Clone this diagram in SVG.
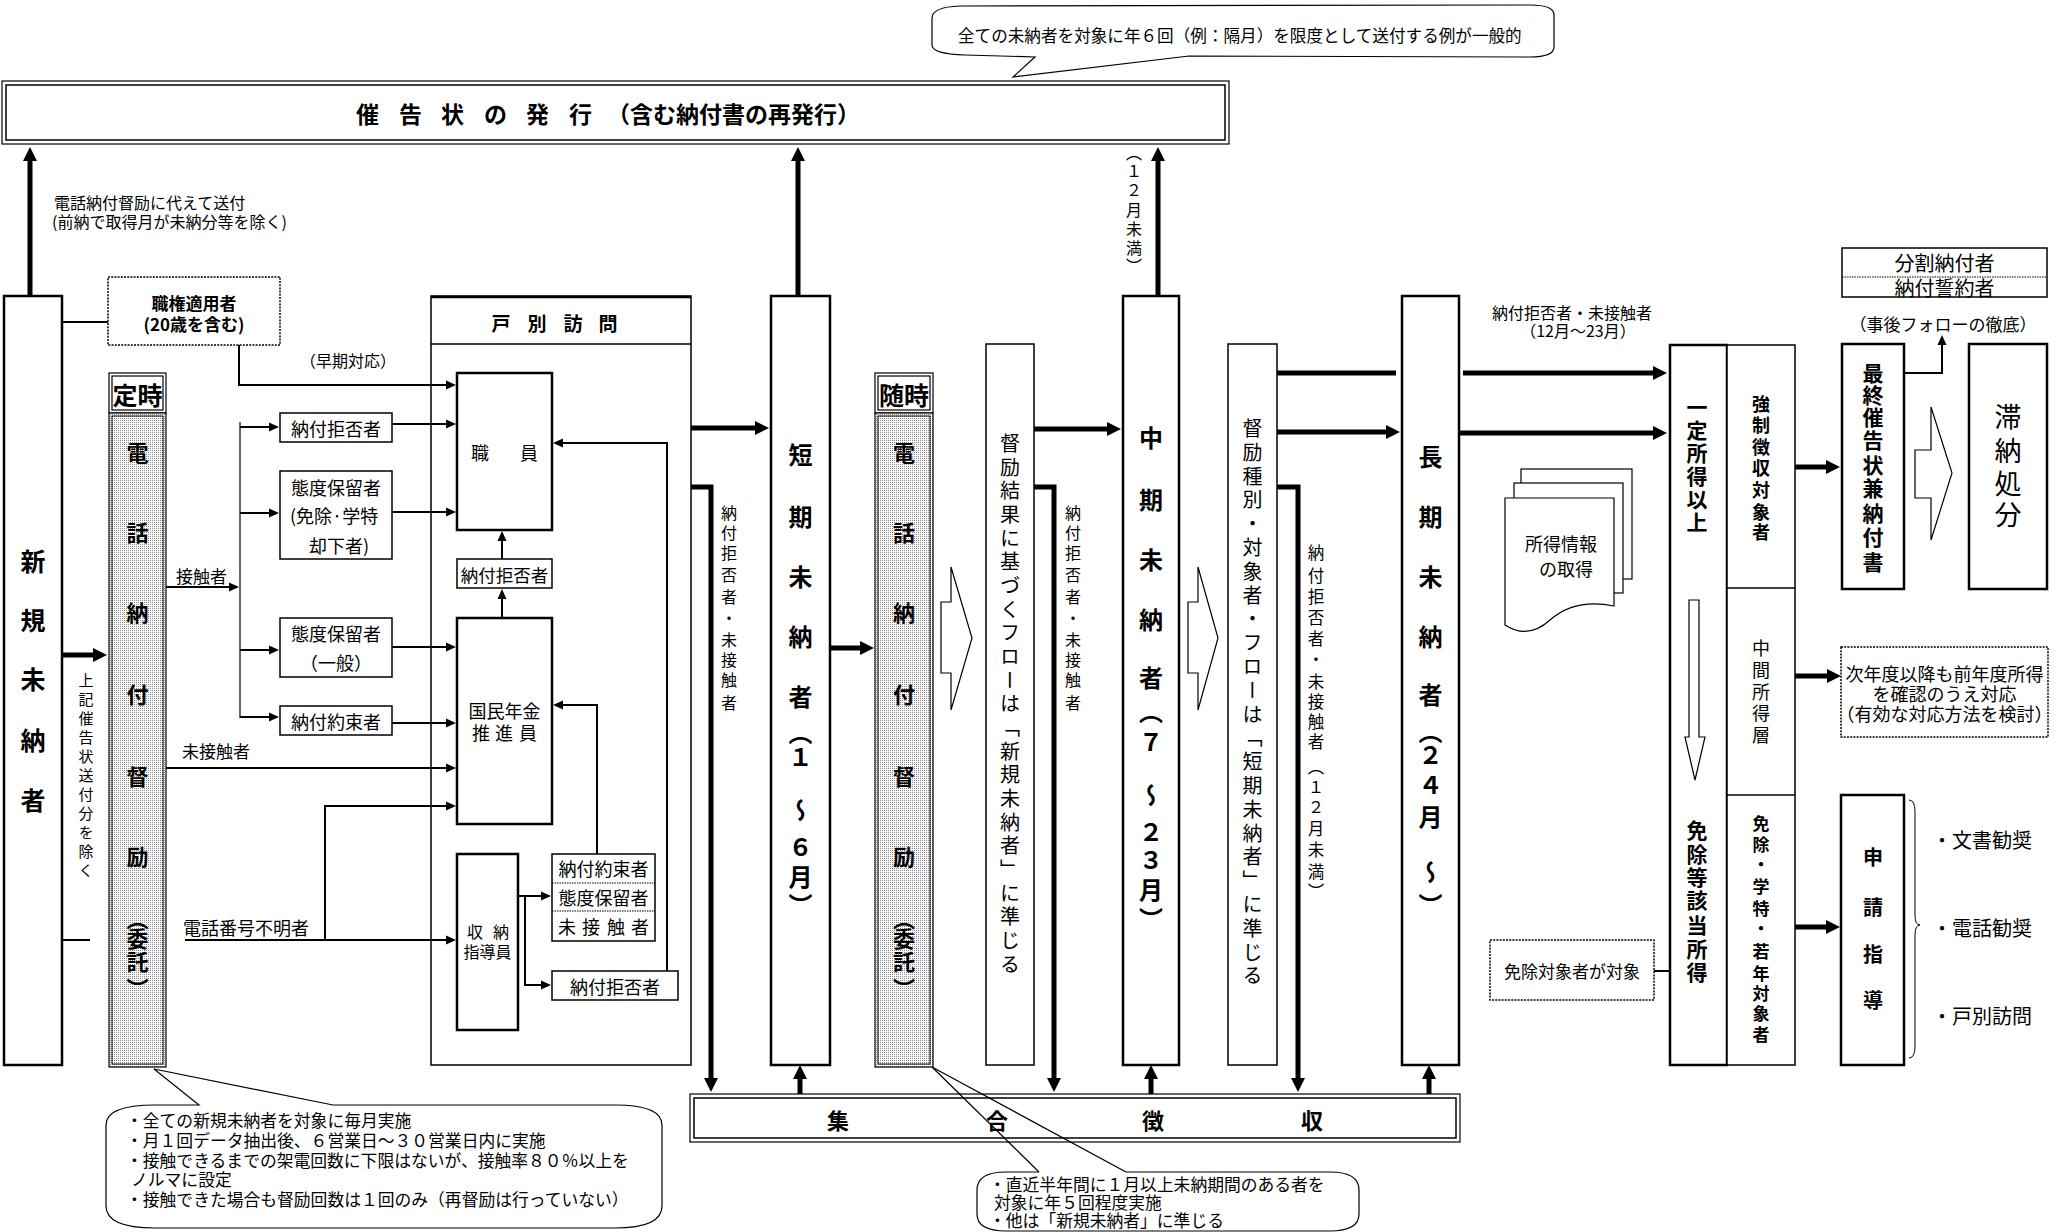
<svg xmlns="http://www.w3.org/2000/svg" width="2063" height="1232" viewBox="0 0 2063 1232">
<defs>
<style>
text{font-family:'Noto Sans CJK JP','Noto Sans',sans-serif;fill:#000}
.bd{font-weight:700}
.c{text-anchor:middle;dominant-baseline:central}
.s{dominant-baseline:central}
.v{writing-mode:vertical-rl;text-anchor:middle;dominant-baseline:central}
.box{fill:#fff;stroke:#000;stroke-width:1.5}
.bx2{fill:#fff;stroke:#000;stroke-width:2.5}
.ds{fill:#fff;stroke:#000;stroke-width:1.5;stroke-dasharray:2 1.2}
.dv{fill:none;stroke:#000;stroke-width:1.2;stroke-dasharray:1.5 1}
.ln{fill:none;stroke:#000;stroke-width:2}
.tk{fill:none;stroke:#000;stroke-width:5}
.hol{fill:#fff;stroke:#000;stroke-width:1.2}
.cal{fill:#fff;stroke:#000;stroke-width:1.2}
.tail{fill:none;stroke:#000;stroke-width:1.2}
</style>
<pattern id="dots" width="2" height="2" patternUnits="userSpaceOnUse"><rect width="2" height="2" fill="#fff"/><rect width="1" height="1" fill="#888"/></pattern>
<marker id="a" viewBox="0 0 10 10" markerWidth="10" markerHeight="10" refX="8" refY="5" orient="auto" markerUnits="userSpaceOnUse"><path d="M0,0.5 L10,5 L0,9.5z"/></marker>
<marker id="A" viewBox="0 0 14 14" markerWidth="14" markerHeight="14" refX="4" refY="7" orient="auto" markerUnits="userSpaceOnUse"><path d="M0,0 L14,7 L0,14z"/></marker>
</defs>
<rect width="2063" height="1232" fill="#fff"/>

<g id="banner">
<rect x="2" y="81" width="1227" height="63" fill="#fff" stroke="#000" stroke-width="1.2"/>
<rect x="6" y="85" width="1219" height="55" fill="none" stroke="#000" stroke-width="1.5"/>
<text class="bd s" font-size="23" x="356 399 441 484 526 569" y="113">催告状の発行</text>
<text class="bd s" font-size="23" x="607" y="113">（含む納付書の再発行）</text>
</g>

<g id="shinki">
<rect class="bx2" x="4" y="296" width="58" height="769"/>
<text class="bd v" font-size="25" x="33" y="561 620 679 740 800">新規未納者</text>
</g>
<text class="v" font-size="15" x="86" y="680 699 718 737 756 775 794 813 832 851 870">上記催告状送付分を除く</text>
<text class="s" font-size="16" x="54" y="202">電話納付督励に代えて送付</text>
<text class="s" font-size="16" x="52" y="221">(前納で取得月が未納分等を除く)</text>

<g id="shokken">
<rect class="ds" x="108" y="277" width="172" height="68"/>
<text class="bd c" font-size="17" x="194" y="302">職権適用者</text>
<text class="bd c" font-size="17" x="194" y="323">(20歳を含む)</text>
</g>
<text class="c" font-size="16" x="348" y="360">（早期対応）</text>

<g id="teiji">
<rect x="109" y="373" width="57" height="40" fill="#fff" stroke="#000" stroke-width="1.2"/>
<rect x="112" y="376" width="51" height="34" fill="none" stroke="#000" stroke-width="1.2"/>
<text class="bd c" font-size="25" x="137.5" y="394">定時</text>
<rect x="109" y="413" width="57" height="654" fill="url(#dots)" stroke="#000" stroke-width="1.2"/>
<rect x="112" y="416" width="51" height="648" fill="none" stroke="#000" stroke-width="1"/>
<text class="bd v" font-size="22" x="137.5" y="453 533 613 695 777 857 919 939 962 989">電話納付督励（委託）</text>
</g>

<g id="left-boxes">
<rect class="box" x="280" y="413" width="112" height="29"/>
<text class="c" font-size="18" x="336" y="428">納付拒否者</text>
<rect class="box" x="280" y="471" width="112" height="88"/>
<text class="c" font-size="18" x="336" y="487">態度保留者</text>
<text class="s" font-size="18" x="290" y="515">(免除·学特</text>
<text class="s" font-size="18" x="309" y="545">却下者)</text>
<rect class="box" x="280" y="618" width="112" height="59"/>
<text class="c" font-size="18" x="336" y="633">態度保留者</text>
<text class="c" font-size="18" x="336" y="662">（一般）</text>
<rect class="box" x="280" y="706" width="112" height="29"/>
<text class="c" font-size="18" x="336" y="721">納付約束者</text>
</g>
<text class="s" font-size="17" x="176" y="575">接触者</text>
<text class="s" font-size="17" x="182" y="750">未接触者</text>
<text class="s" font-size="18" x="183" y="927">電話番号不明者</text>

<g id="kobetsu">
<rect x="431" y="296" width="260" height="769" fill="#fff" stroke="#000" stroke-width="1.5"/>
<line x1="431" y1="344" x2="691" y2="344" stroke="#000" stroke-width="1.5"/>
<line x1="431" y1="297" x2="691" y2="297" stroke="#000" stroke-width="2.5"/>
<text class="bd c" font-size="19" x="501 537 573 608" y="322">戸別訪問</text>
</g>
<g id="shokuin">
<rect class="bx2" x="457" y="373" width="95" height="157"/>
<text class="c" font-size="18" x="480 529" y="452">職員</text>
</g>
<g id="kyohi-mid">
<rect class="box" x="457" y="559" width="95" height="29"/>
<text class="c" font-size="17.5" x="504.5" y="574">納付拒否者</text>
</g>
<g id="suishinin">
<rect class="bx2" x="457" y="618" width="95" height="206"/>
<text class="c" font-size="18" x="504.5" y="710">国民年金</text>
<text class="c" font-size="18" x="481 504 528" y="732">推進員</text>
</g>
<g id="shuno">
<rect class="bx2" x="457" y="854" width="61" height="176"/>
<text class="c" font-size="16" x="475 501" y="931">収納</text>
<text class="c" font-size="16" x="487.5" y="951">指導員</text>
</g>
<g id="stack">
<rect class="box" x="552" y="854" width="103" height="87"/>
<line class="dv" x1="552" y1="883" x2="655" y2="883"/>
<line class="dv" x1="552" y1="911" x2="655" y2="911"/>
<text class="c" font-size="18" x="603.5" y="868">納付約束者</text>
<text class="c" font-size="18" x="603.5" y="897">態度保留者</text>
<text class="c" font-size="18" x="567 591 616 640" y="926">未接触者</text>
</g>
<g id="kyohi-bottom">
<rect class="box" x="552" y="971" width="126" height="29"/>
<text class="c" font-size="18" x="615" y="986">納付拒否者</text>
</g>

<g id="tanki">
<rect class="bx2" x="771" y="296" width="59" height="769"/>
<text class="bd v" font-size="24" x="800.5" y="455 517 577 637 697 733 757 810 847 877 905">短期未納者（１～６月）</text>
</g>
<text class="v" font-size="16" x="729" y="513 533 553 575 597 618 640 660 680 703">納付拒否者・未接触者</text>

<g id="zuiji">
<rect x="875" y="373" width="58" height="40" fill="#fff" stroke="#000" stroke-width="1.2"/>
<rect x="878" y="376" width="52" height="34" fill="none" stroke="#000" stroke-width="1.2"/>
<text class="bd c" font-size="25" x="904" y="394">随時</text>
<rect x="875" y="413" width="58" height="654" fill="url(#dots)" stroke="#000" stroke-width="1.2"/>
<rect x="878" y="416" width="52" height="648" fill="none" stroke="#000" stroke-width="1"/>
<text class="bd v" font-size="22" x="904" y="453 533 613 695 777 857 919 939 962 989">電話納付督励（委託）</text>
</g>
<polygon class="hol" points="941,602 951,602 951,567 972,638 951,710 951,673 941,673"/>
<g id="tokurei-kekka">
<rect class="box" x="986" y="344" width="48" height="721"/>
<text class="v" font-size="20" x="1010" y="443 467 490 514 538 561 585 609 632 656 680 703 727 751 774 798 822 845 869 893 916 940 964">督励結果に基づくフローは「新規未納者」に準じる</text>
</g>
<text class="v" font-size="16" x="1073" y="513 533 553 575 597 618 640 660 680 703">納付拒否者・未接触者</text>

<g id="chuki">
<rect class="bx2" x="1123" y="296" width="56" height="769"/>
<text class="bd v" font-size="24" x="1151" y="438 500 560 620 678 712 742 795 832 860 890 919">中期未納者（７～２３月）</text>
</g>
<text class="v" font-size="16" x="1134" y="153 171 190 210 229 248 266">（１２月未満）</text>
<polygon class="hol" points="1188,602 1198,602 1198,567 1218,638 1198,710 1198,673 1188,673"/>
<g id="tokurei-shubetsu">
<rect class="box" x="1228" y="344" width="49" height="721"/>
<text class="v" font-size="20" x="1252.5" y="428 452 476 499 523 547 571 595 618 642 666 690 714 737 761 785 809 833 856 880 904 928 952 975">督励種別・対象者・フローは「短期未納者」に準じる</text>
</g>
<text class="v" font-size="16.5" x="1316" y="553 576 597 618 639 660 682 702 722 742 767 787 807 829 850 872 892">納付拒否者・未接触者（１２月未満）</text>

<g id="choki">
<rect class="bx2" x="1402" y="296" width="57" height="769"/>
<text class="bd v" font-size="24" x="1430.5" y="457 517 577 637 695 732 755 785 817 872 905">長期未納者（２４月～）</text>
</g>
<text class="s" font-size="16" x="1492" y="312">納付拒否者・未接触者</text>
<text class="c" font-size="16" x="1578" y="330">（12月～23月）</text>

<g id="shotoku-doc">
<rect x="1521" y="469" width="111" height="110" fill="#fff" stroke="#000" stroke-width="1.2"/>
<rect x="1514" y="483" width="109" height="110" fill="#fff" stroke="#000" stroke-width="1.2"/>
<path d="M1505,498 H1614 V606 Q1575,598 1550,620 Q1528,640 1505,625 Z" fill="#fff" stroke="#000" stroke-width="1.2"/>
<text class="c" font-size="18" x="1561" y="543">所得情報</text>
<text class="c" font-size="18" x="1566" y="568">の取得</text>
</g>

<g id="ittei">
<rect class="bx2" x="1670" y="345" width="57" height="720"/>
<text class="bd v" font-size="21" x="1697" y="407 430 453 476 499 522">一定所得以上</text>
<polygon class="hol" points="1689,600 1699,600 1699,737 1705,737 1695,780 1685,737 1689,737"/>
<text class="bd v" font-size="21" x="1697" y="830 854 877 900 925 949 972">免除等該当所得</text>
</g>
<g id="category">
<rect class="box" x="1727" y="345" width="68" height="720"/>
<line x1="1727" y1="588" x2="1795" y2="588" stroke="#000" stroke-width="1.5"/>
<line x1="1727" y1="795" x2="1795" y2="795" stroke="#000" stroke-width="1.5"/>
<text class="bd v" font-size="18" x="1761" y="404 425 447 468 490 512 532">強制徴収対象者</text>
<text class="v" font-size="18" x="1761" y="648 670 692 713 735">中間所得層</text>
<text class="bd v" font-size="17" x="1761" y="824 845 865 887 909 929 952 974 994 1014 1035">免除・学特・若年対象者</text>
</g>
<g id="menjo-taisho">
<rect class="ds" x="1490" y="940" width="164" height="60"/>
<text class="c" font-size="17" x="1572" y="970">免除対象者が対象</text>
</g>

<g id="bunkatsu">
<rect class="box" x="1842" y="248" width="205" height="49"/>
<line class="dv" x1="1842" y1="277" x2="2047" y2="277"/>
<text class="c" font-size="20" x="1944.5" y="262">分割納付者</text>
<text class="c" font-size="20" x="1944.5" y="287">納付誓約者</text>
</g>
<text class="c" font-size="17" x="1943" y="323">（事後フォローの徹底）</text>
<g id="saishu">
<rect class="bx2" x="1842" y="344" width="62" height="245"/>
<text class="bd v" font-size="21" x="1873" y="373 395 417 440 465 488 513 537 562">最終催告状兼納付書</text>
</g>
<polygon class="hol" points="1915,450 1931,450 1931,407 1952,473 1931,540 1931,498 1915,498"/>
<g id="tainou">
<rect class="bx2" x="1969" y="344" width="78" height="245"/>
<text class="v" font-size="27" x="2008" y="417 451 484 515">滞納処分</text>
</g>
<g id="jinendo">
<rect class="ds" x="1841" y="647" width="207" height="90"/>
<text class="c" font-size="18" x="1944.5" y="673">次年度以降も前年度所得</text>
<text class="c" font-size="18" x="1944.5" y="693">を確認のうえ対応</text>
<text class="c" font-size="18" x="1944.5" y="713">（有効な対応方法を検討）</text>
</g>
<g id="shinsei">
<rect class="bx2" x="1841" y="795" width="63" height="270"/>
<text class="bd v" font-size="20" x="1873" y="857 907 954 1000">申請指導</text>
<path d="M1909,800 Q1915,800 1915,812 L1915,915 Q1915,925 1920,925 Q1915,925 1915,935 L1915,1046 Q1915,1058 1909,1058" fill="none" stroke="#000" stroke-width="1"/>
<text class="s" font-size="20" x="1932" y="839">・文書勧奨</text>
<text class="s" font-size="20" x="1932" y="927">・電話勧奨</text>
<text class="s" font-size="20" x="1932" y="1015">・戸別訪問</text>
</g>

<g id="shugo">
<rect x="690" y="1094" width="770" height="48" fill="#fff" stroke="#000" stroke-width="1.2"/>
<rect x="694" y="1098" width="762" height="40" fill="none" stroke="#000" stroke-width="1.5"/>
<text class="bd c" font-size="22" x="838 997 1153 1312" y="1119">集合徴収</text>
</g>

<g id="connectors">
<path class="tk" d="M30,296 V157" marker-end="url(#A)"/>
<path class="tk" d="M798,296 V157" marker-end="url(#A)"/>
<path class="tk" d="M1158,296 V157" marker-end="url(#A)"/>
<path class="tk" d="M62,655 H97" marker-end="url(#A)"/>
<path class="tk" d="M691,428 H759" marker-end="url(#A)"/>
<path class="tk" d="M691,487 H711 V1082" marker-end="url(#A)"/>
<path class="tk" d="M830,648 H864" marker-end="url(#A)"/>
<path class="tk" d="M800,1094 V1075" marker-end="url(#A)"/>
<path class="tk" d="M1034,429 H1111" marker-end="url(#A)"/>
<path class="tk" d="M1034,487 H1054 V1082" marker-end="url(#A)"/>
<path class="tk" d="M1151,1094 V1075" marker-end="url(#A)"/>
<path class="tk" d="M1277,373 H1396"/>
<path class="tk" d="M1463,373 H1657" marker-end="url(#A)"/>
<path class="tk" d="M1277,432 H1390" marker-end="url(#A)"/>
<path class="tk" d="M1459,433 H1657" marker-end="url(#A)"/>
<path class="tk" d="M1277,487 H1298 V1082" marker-end="url(#A)"/>
<path class="tk" d="M1429,1094 V1075" marker-end="url(#A)"/>
<path class="tk" d="M1795,467 H1830" marker-end="url(#A)"/>
<path class="tk" d="M1795,676 H1831" marker-end="url(#A)"/>
<path class="tk" d="M1795,927 H1830" marker-end="url(#A)"/>
<path class="ln" d="M62,322 H108"/>
<path class="ln" d="M239,345 V385 H454" marker-end="url(#a)"/>
<path class="ln" d="M62,940 H90"/>
<path class="ln" d="M166,587 H237" marker-end="url(#a)"/>
<path d="M240,422 V718" fill="none" stroke="#666" stroke-width="2"/>
<path class="ln" d="M240,427 H277" marker-end="url(#a)"/>
<path class="ln" d="M240,513 H277" marker-end="url(#a)"/>
<path class="ln" d="M240,650 H277" marker-end="url(#a)"/>
<path class="ln" d="M240,717 H277" marker-end="url(#a)"/>
<path class="ln" d="M392,424 H454" marker-end="url(#a)"/>
<path class="ln" d="M392,512 H454" marker-end="url(#a)"/>
<path class="ln" d="M392,647 H454" marker-end="url(#a)"/>
<path class="ln" d="M392,723 H454" marker-end="url(#a)"/>
<path class="ln" d="M166,768 H454" marker-end="url(#a)"/>
<path class="ln" d="M325,940 V806 H454" marker-end="url(#a)"/>
<path class="ln" d="M185,940 H454" marker-end="url(#a)"/>
<path class="ln" d="M502,559 V533" marker-end="url(#a)"/>
<path class="ln" d="M502,618 V591" marker-end="url(#a)"/>
<path class="ln" d="M518,896 H549" marker-end="url(#a)"/>
<path class="ln" d="M525,896 V985 H549" marker-end="url(#a)"/>
<path class="ln" d="M597,854 V705 H555" marker-end="url(#a)"/>
<path class="ln" d="M667,971 V443 H555" marker-end="url(#a)"/>
<path class="ln" d="M1904,373 H1942 V337" marker-end="url(#a)"/>
<path class="ln" d="M1654,971 H1670"/>
</g>

<g id="callout-top">
<path class="cal" d="M960,6 Q932,7 932,18 L932,45 Q932,54 965,55 L1035,57 L1013,77 L1189,56 L1530,57 Q1554,57 1554,47 L1554,15 Q1554,5 1530,5 Z"/>
<text class="s" font-size="16.6" x="958" y="35">全ての未納者を対象に年６回（例：隔月）を限度として送付する例が一般的</text>
</g>
<g id="callout-left">
<path class="cal" d="M199,1105 L154,1069 L333,1105 L615,1105 Q662,1105 662,1125 L662,1206 Q662,1228 615,1228 L155,1228 Q106,1228 106,1206 L106,1125 Q106,1105 155,1105 Z"/>
<text class="s" font-size="16.8" x="126" y="1120">・全ての新規未納者を対象に毎月実施</text>
<text class="s" font-size="16.8" x="126" y="1140">・月１回データ抽出後、６営業日～３０営業日内に実施</text>
<text class="s" font-size="16.8" x="126" y="1160">・接触できるまでの架電回数に下限はないが、接触率８０％以上を</text>
<text class="s" font-size="16.8" x="131" y="1179">ノルマに設定</text>
<text class="s" font-size="16.8" x="126" y="1199">・接触できた場合も督励回数は１回のみ（再督励は行っていない）</text>
</g>
<g id="callout-bottom">
<path class="cal" d="M1126,1172 L1330,1172 Q1359,1172 1359,1190 L1359,1214 Q1359,1231 1330,1231 L1006,1231 Q977,1231 977,1214 L977,1190 Q977,1172 1006,1172 L1039,1172"/>
<path class="tail" d="M1039,1172 L932,1067 L1126,1172"/>
<text class="s" font-size="16.8" x="989" y="1184">・直近半年間に１月以上未納期間のある者を</text>
<text class="s" font-size="16.8" x="994" y="1202">対象に年５回程度実施</text>
<text class="s" font-size="16.8" x="989" y="1220">・他は「新規未納者」に準じる</text>
</g>
</svg>
